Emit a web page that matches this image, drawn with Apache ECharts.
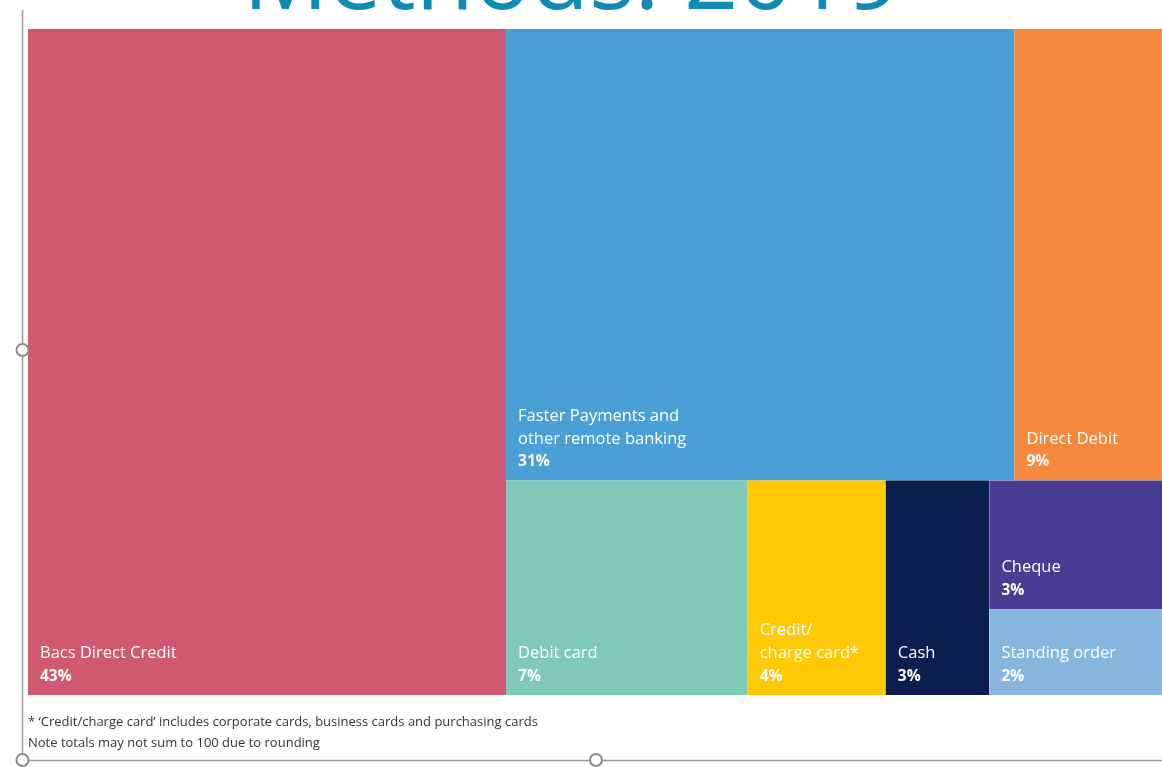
<!DOCTYPE html>
<html>
<head>
<meta charset="utf-8">
<style>
  html, body { margin: 0; padding: 0; background: #ffffff; }
  #chart { width: 1162px; height: 767px; }
</style>
<script src="https://cdn.jsdelivr.net/npm/echarts@6/dist/echarts.min.js"></script>
</head>
<body>
<div id="chart"></div>
<script>
// ---- data ----
const categories = [
  'Bacs Direct Credit',
  'Faster Payments and\nother remote banking',
  'Direct Debit',
  'Debit card',
  'Credit/\ncharge card*',
  'Cash',
  'Cheque',
  'Standing order'
];
const shares = [43, 31, 9, 7, 4, 3, 3, 2];
const palette = ['#D05870', '#4A9FD5', '#F4893D', '#7FC9B6', '#FFCA05', '#0C1D4F', '#4A3B93', '#86B6DE'];
const titleText = 'Methods: 2019';
const footnotes = [
  "* \u2018Credit/charge card\u2019 includes corporate cards, business cards and purchasing cards",
  'Note totals may not sum to 100 due to rounding'
];

const LINE_H = 23;
const PAD_BOTTOM = 6;
const PAD_LEFT = 12;

// ---- build the hierarchy (grouping mirrors the layout of the original) ----
function buildTree(cellHeights) {
  function leaf(i) {
    const node = {
      name: categories[i],
      value: shares[i],
      itemStyle: { color: palette[i] }
    };
    if (cellHeights && cellHeights[categories[i]] != null) {
      const lines = categories[i].split('\n').length + 1;
      const padTop = Math.max(0, cellHeights[categories[i]] - lines * LINE_H - PAD_BOTTOM - 1);
      node.label = { padding: [padTop, 0, PAD_BOTTOM, PAD_LEFT] };
    }
    return node;
  }
  function group(children) {
    return { name: '', children: children };
  }
  return [
    leaf(0),
    group([
      group([leaf(1), leaf(2)]),
      group([leaf(3), leaf(4), leaf(5), group([leaf(6), leaf(7)])])
    ])
  ];
}

const chart = echarts.init(document.getElementById('chart'), null, { renderer: 'canvas' });

function makeOption(treeData) {
  return {
    backgroundColor: '#ffffff',
    animation: false,
    series: [{
      type: 'treemap',
      left: 28,
      top: 29,
      width: 1134,
      height: 666,
      sort: false,
      squareRatio: 1,
      roam: false,
      nodeClick: false,
      visibleMin: 0,
      breadcrumb: { show: false },
      itemStyle: { borderWidth: 0, gapWidth: 0, borderColor: '#ffffff' },
      upperLabel: { show: false },
      label: {
        show: true,
        position: 'insideTopLeft',
        distance: 0,
        padding: [0, 0, PAD_BOTTOM, PAD_LEFT],
        color: '#ffffff',
        formatter: function (p) {
          return '{n|' + p.name + '}\n{p|' + p.value + '%}';
        },
        rich: {
          n: { fontFamily: 'Open Sans', fontSize: 16.5, color: '#ffffff', lineHeight: LINE_H },
          p: { fontFamily: 'Open Sans', fontSize: 15.5, fontWeight: 'bold', color: '#ffffff', lineHeight: LINE_H }
        }
      },
      emphasis: { disabled: true },
      data: treeData
    }],
    graphic: [
      {
        type: 'text',
        left: 243,
        top: -66,
        style: {
          text: titleText,
          fontFamily: 'Open Sans',
          fontWeight: 'normal',
          fontSize: 95,
          fill: '#0E8AB5'
        },
        z: 10
      },
      {
        type: 'text',
        left: 28,
        top: 712,
        style: {
          text: footnotes.join('\n'),
          fontFamily: 'Open Sans',
          fontSize: 13,
          lineHeight: 21,
          fill: '#333333'
        }
      },
      {
        type: 'line',
        shape: { x1: 22.5, y1: 10, x2: 22.5, y2: 760 },
        style: { stroke: '#9a9a9a', lineWidth: 1.5 },
        z: 20
      },
      {
        type: 'line',
        shape: { x1: 22, y1: 760.5, x2: 1162, y2: 760.5 },
        style: { stroke: '#9a9a9a', lineWidth: 1.5 },
        z: 20
      },
      {
        type: 'circle',
        shape: { cx: 22.5, cy: 350, r: 6 },
        style: { fill: '#ffffff', stroke: '#8a8a8a', lineWidth: 2 },
        z: 21
      },
      {
        type: 'circle',
        shape: { cx: 22.5, cy: 760, r: 6 },
        style: { fill: '#ffffff', stroke: '#8a8a8a', lineWidth: 2 },
        z: 21
      },
      {
        type: 'circle',
        shape: { cx: 596, cy: 760, r: 6 },
        style: { fill: '#ffffff', stroke: '#8a8a8a', lineWidth: 2 },
        z: 21
      }
    ]
  };
}

// first pass: let the library lay out the cells
chart.setOption(makeOption(buildTree(null)));

// read the library's own cell sizes so labels can sit at the bottom-left of each cell
const cellHeights = {};
try {
  const seriesModel = chart.getModel().getSeriesByIndex(0);
  const data = seriesModel.getData();
  data.each(function (idx) {
    const lay = data.getItemLayout(idx);
    const name = data.getName(idx);
    if (lay && name) cellHeights[name] = lay.height;
  });
} catch (e) { /* keep top labels if unavailable */ }

chart.setOption(makeOption(buildTree(cellHeights)), true);
</script>
</body>
</html>
